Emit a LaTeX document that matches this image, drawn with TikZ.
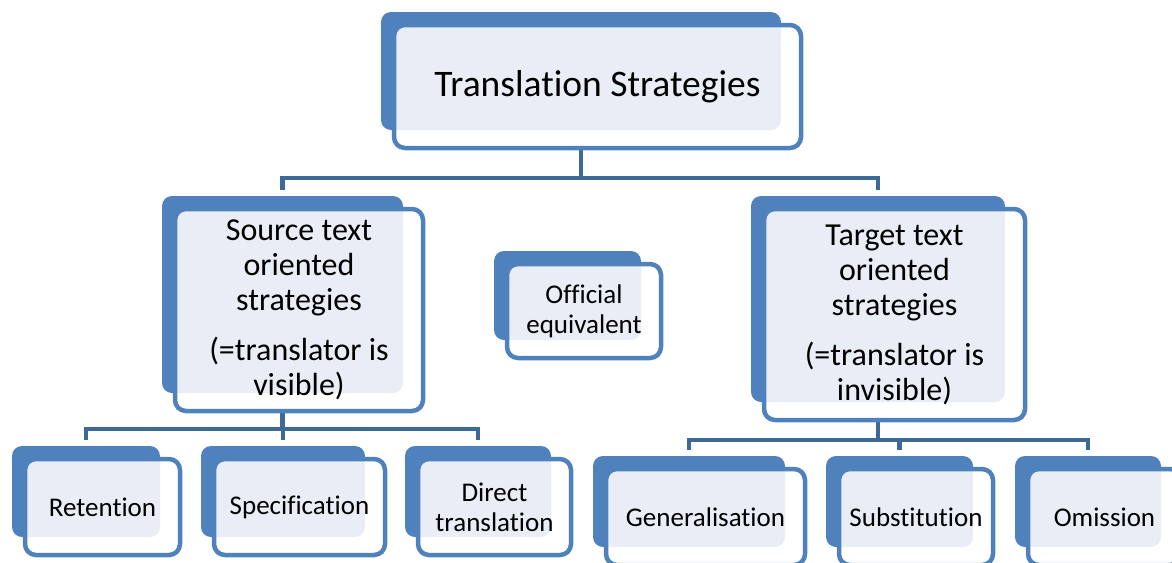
\documentclass[tikz,border=0pt]{standalone}
\usepackage{fontspec}
\setmainfont{Carlito}[Ligatures={NoCommon}]
\usetikzlibrary{fit,calc}
\definecolor{boxblue}{HTML}{4F81BD}
\definecolor{lightfill}{HTML}{E9EEF6}
\definecolor{connblue}{HTML}{3E6898}
\pgfdeclarelayer{connlayer}
\pgfdeclarelayer{backlayer}
\pgfsetlayers{connlayer,backlayer,main}
\tikzset{
  frontbox/.style={draw=boxblue, line width=4.5pt, rounded corners=11pt, inner sep=2pt, outer sep=0pt, align=center, text=black},
  backbox/.style={fill=boxblue, draw=none, rounded corners=10pt, inner sep=0pt, outer sep=0pt},
  conn/.style={draw=connblue, line width=4.5pt},
  bigtext/.style={font=\fontsize{37.5}{42}\selectfont},
  midtext/.style={font=\fontsize{32}{35}\selectfont},
  smalltext/.style={font=\fontsize{27}{30}\selectfont},
}
\newcommand\mkbox[7]{%
  \node[frontbox, #6, minimum width=#4pt, minimum height=#5pt] (#1) at (#2,#3) {#7};
  \path (#1.north west) ++(-13,-13) coordinate (#1nw);
  \path (#1.south east) ++(-20,-18) coordinate (#1se);
  \begin{pgfonlayer}{backlayer}
    \node[backbox, fit=(#1nw)(#1se)] (#1B) {};
    \fill[white, rounded corners=11pt] (#1.north west) rectangle (#1.south east);
    \begin{scope}
      \clip[rounded corners=11pt] (#1.north west) rectangle (#1.south east);
      \fill[lightfill, rounded corners=10pt] (#1nw) rectangle (#1se);
    \end{scope}
  \end{pgfonlayer}
}
\begin{document}
\begin{tikzpicture}[x=1pt, y=-1pt]
\useasboundingbox (0,0) rectangle (1172,562);
\mkbox{top}{597.5}{86.5}{407}{123}{bigtext}{\raisebox{-3pt}{Translation Strategies}}
\mkbox{src}{299}{310}{248}{202}{midtext}{Source text\\oriented\\strategies\\[15pt](=translator is\\visible)}
\mkbox{off}{584}{311}{154}{94}{smalltext}{Official\\equivalent}
\mkbox{tgt}{894.5}{314.5}{261}{211}{midtext}{Target text\\oriented\\strategies\\[15pt](=translator is\\invisible)}
\mkbox{ret}{102.5}{507}{155}{96}{smalltext}{Retention}
\mkbox{spe}{299.5}{507}{171}{96}{smalltext}{Specification}
\mkbox{dir}{494.5}{507}{153}{96}{smalltext}{Direct\\translation}
\mkbox{gen}{705.5}{517}{199}{96}{smalltext}{Generalisation}
\mkbox{sub}{916}{517}{154}{96}{smalltext}{Substitution}
\mkbox{omi}{1104.5}{517}{153}{96}{smalltext}{Omission}
\coordinate (busA) at (0,178);
\coordinate (busB) at (0,429);
\coordinate (busC) at (0,440);
\begin{pgfonlayer}{connlayer}
  \draw[conn] (topB.south) -- (topB.south |- busA);
  \draw[conn] ([yshift=6pt]srcB.north) |- (topB.south |- busA) -| ([yshift=6pt]tgtB.north);
  \draw[conn] (srcB.south) -- (srcB.south |- busB);
  \draw[conn] ([yshift=6pt]retB.north) |- (srcB.south |- busB) -| ([yshift=6pt]dirB.north);
  \draw[conn] (speB.north |- busB) -- ([yshift=6pt]speB.north);
  \draw[conn] (tgtB.south) -- (tgtB.south |- busC);
  \draw[conn] ([yshift=6pt]genB.north) |- (tgtB.south |- busC) -| ([yshift=6pt]omiB.north);
  \draw[conn] (subB.north |- busC) -- ([yshift=6pt]subB.north);
\end{pgfonlayer}
\end{tikzpicture}
\end{document}
